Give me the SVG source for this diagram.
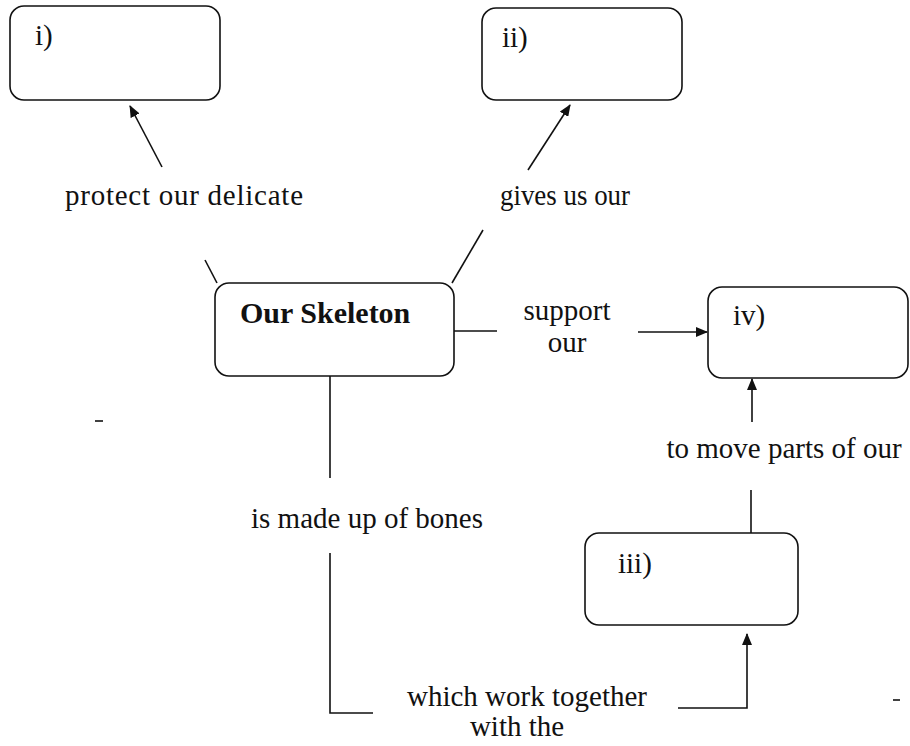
<svg xmlns="http://www.w3.org/2000/svg" width="910" height="746" viewBox="0 0 910 746">
<style>
.box{fill:#fff;stroke:#111;stroke-width:1.6}
.t{font-family:"Liberation Serif",serif;font-size:29px;fill:#111}
.b{font-family:"Liberation Serif",serif;font-size:30px;font-weight:bold;fill:#111}
.c{fill:none;stroke:#111;stroke-width:1.6}
</style>
<defs>
<marker id="ah" viewBox="0 0 12 10" refX="11" refY="5" markerWidth="12" markerHeight="10" markerUnits="userSpaceOnUse" orient="auto">
<path d="M0,0 L12,5 L0,10 Z" fill="#111"/>
</marker>
</defs>
<rect width="910" height="746" fill="#fff"/>
<g id="connectors">
<line class="c" x1="162" y1="167" x2="130" y2="106" marker-end="url(#ah)"/>
<line class="c" x1="528" y1="170" x2="570" y2="105" marker-end="url(#ah)"/>
<line class="c" x1="205" y1="260" x2="217" y2="283"/>
<line class="c" x1="483" y1="230" x2="452" y2="283"/>
<line class="c" x1="454" y1="331" x2="497" y2="331"/>
<line class="c" x1="638" y1="332" x2="707" y2="332" marker-end="url(#ah)"/>
<line class="c" x1="752" y1="422" x2="752" y2="379" marker-end="url(#ah)"/>
<line class="c" x1="751" y1="490" x2="751" y2="533"/>
<polyline class="c" points="678,708 747,708 747,634" marker-end="url(#ah)"/>
<line class="c" x1="330" y1="376" x2="330" y2="478"/>
<polyline class="c" points="330,553 330,713 373,713"/>
<line class="c" x1="95" y1="421" x2="103" y2="421"/>
<line class="c" x1="893" y1="700" x2="900" y2="700"/>
</g>
<g id="node-i">
<rect class="box" x="10" y="6" width="210" height="94" rx="14"/>
<text class="t" x="35" y="45">i)</text>
</g>
<g id="node-ii">
<rect class="box" x="482" y="8" width="200" height="92" rx="14"/>
<text class="t" x="502" y="47">ii)</text>
</g>
<g id="node-skeleton">
<rect class="box" x="215" y="283" width="239" height="93" rx="14"/>
<text class="b" x="240" y="323">Our Skeleton</text>
</g>
<g id="node-iv">
<rect class="box" x="708" y="287" width="200" height="91" rx="14"/>
<text class="t" x="733" y="325">iv)</text>
</g>
<g id="node-iii">
<rect class="box" x="585" y="533" width="213" height="92" rx="14"/>
<text class="t" x="618" y="573">iii)</text>
</g>
<g id="labels">
<text class="t" x="65" y="205" textLength="238" lengthAdjust="spacing">protect our delicate</text>
<text class="t" x="500" y="205" textLength="130" lengthAdjust="spacingAndGlyphs">gives us our</text>
<text class="t" x="567" y="320" text-anchor="middle">support</text>
<text class="t" x="567" y="352" text-anchor="middle">our</text>
<text class="t" x="784" y="458" text-anchor="middle">to move parts of our</text>
<text class="t" x="367" y="528" text-anchor="middle">is made up of bones</text>
<text class="t" x="527" y="706" text-anchor="middle">which work together</text>
<text class="t" x="517" y="736" text-anchor="middle">with the</text>
</g>
</svg>
